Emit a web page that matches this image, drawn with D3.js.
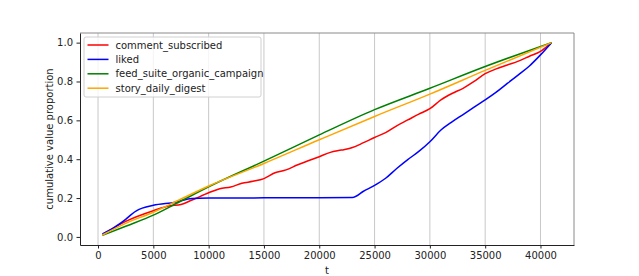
<!DOCTYPE html>
<html>
<head>
<meta charset="utf-8">
<script src="https://cdn.jsdelivr.net/npm/d3@7"></script>
<style>
  body { margin: 0; background: #fff; }
  text { font-family: "DejaVu Sans", sans-serif; }
</style>
</head>
<body>
<svg></svg>
<script>
var margin = {top: 33, left: 80, bottom: 31, right: 65};
var width = 639 - margin.left - margin.right;
var height = 276 - margin.top - margin.bottom;

// dataset

var seriesNames = ["comment_subscribed", "liked", "feed_suite_organic_campaign", "story_daily_digest"];
var colors = ["red", "blue", "green", "orange"];

var commentT = [400, 2500, 5000, 6500, 7500, 8500, 10000, 11000, 12000, 13000, 14000, 15000, 16000, 17000, 18000, 19000, 20000, 21000, 22000, 23000, 24000, 25000, 26000, 27000, 28000, 29000, 30000, 31000, 32000, 33000, 34000, 35000, 36000, 37000, 38000, 39000, 40000, 41000];
var commentV = [0.012, 0.08, 0.135, 0.16, 0.167, 0.19, 0.227, 0.248, 0.257, 0.276, 0.286, 0.300, 0.33, 0.345, 0.37, 0.392, 0.413, 0.435, 0.447, 0.46, 0.485, 0.512, 0.537, 0.572, 0.602, 0.632, 0.66, 0.705, 0.738, 0.765, 0.8, 0.84, 0.865, 0.885, 0.905, 0.93, 0.955, 1.0];

var likedT = [400, 1500, 2500, 3000, 3500, 4000, 5000, 7000, 8500, 10000, 15000, 20000, 23000, 24000, 25000, 26000, 27000, 28000, 29000, 30000, 31000, 32000, 33000, 34000, 35000, 36000, 37000, 38000, 39000, 40000, 41000];
var likedV = [0.015, 0.05, 0.09, 0.115, 0.135, 0.148, 0.163, 0.179, 0.198, 0.2, 0.201, 0.202, 0.203, 0.235, 0.265, 0.302, 0.352, 0.398, 0.44, 0.49, 0.55, 0.592, 0.63, 0.668, 0.705, 0.745, 0.79, 0.834, 0.88, 0.937, 1.0];

var feedT = [400, 2500, 5000, 7500, 10000, 15000, 20000, 25000, 30000, 35000, 41000];
var feedV = [0.008, 0.055, 0.112, 0.185, 0.258, 0.39, 0.525, 0.655, 0.765, 0.877, 1.0];

var storyT = [400, 2500, 5000, 7500, 10000, 15000, 20000, 25000, 30000, 35000, 41000];
var storyV = [0.01, 0.07, 0.127, 0.195, 0.262, 0.378, 0.5, 0.62, 0.735, 0.857, 1.0];

var xTicks = [0, 5000, 10000, 15000, 20000, 25000, 30000, 35000, 40000];
var yTicks = [0.0, 0.2, 0.4, 0.6, 0.8, 1.0];

var series = [
  {name: seriesNames[0], color: colors[0], t: commentT, v: commentV},
  {name: seriesNames[1], color: colors[1], t: likedT, v: likedV},
  {name: seriesNames[2], color: colors[2], t: feedT, v: feedV},
  {name: seriesNames[3], color: colors[3], t: storyT, v: storyV}
];

// SVG setup

var svg = d3.select("svg")
  .attr("width", width + margin.left + margin.right)
  .attr("height", height + margin.top + margin.bottom)
  .append("g")
    .attr("transform", "translate(" + margin.left + "," + margin.top + ")");

// scales (matplotlib style 5% padding)

var x = d3.scaleLinear()
  .domain([400 - 0.05 * 40600, 41000 + 0.05 * 40600])
  .range([0, width]);

var y = d3.scaleLinear()
  .domain([0.008 - 0.05 * 0.992, 1.0 + 0.05 * 0.992])
  .range([height, 0]);

// vertical grid

svg.append("g")
  .selectAll("line")
  .data(xTicks)
  .enter()
  .append("line")
    .attr("x1", d => x(d)).attr("x2", d => x(d))
    .attr("y1", 0).attr("y2", height)
    .attr("stroke", "#c8c8c8")
    .attr("stroke-width", 1);

// lines

var line = d3.line()
  .x(d => x(d[0]))
  .y(d => y(d[1]))
  .curve(d3.curveMonotoneX);

series.forEach(function(s) {
  svg.append("path")
    .datum(s.t.map((t, i) => [t, s.v[i]]))
    .attr("fill", "none")
    .attr("stroke", s.color)
    .attr("stroke-width", 1.5)
    .attr("stroke-linejoin", "round")
    .attr("d", line);
});

// frame

svg.append("line").attr("x1", 0).attr("x2", width).attr("y1", 0).attr("y2", 0)
  .attr("stroke", "#8a8a8a");
svg.append("line").attr("x1", width).attr("x2", width).attr("y1", 0).attr("y2", height)
  .attr("stroke", "#8a8a8a");

// axes

var xAxis = svg.append("g")
  .attr("transform", "translate(0," + height + ")")
  .call(d3.axisBottom(x).tickValues(xTicks).tickFormat(d3.format("d")).tickSize(3.5).tickSizeOuter(0).tickPadding(3.5));

var yAxis = svg.append("g")
  .call(d3.axisLeft(y).tickValues(yTicks).tickFormat(d3.format(".1f")).tickSize(3.5).tickSizeOuter(0).tickPadding(3.5));

[xAxis, yAxis].forEach(function(a) {
  a.select(".domain").attr("stroke", "#222");
  a.selectAll(".tick line").attr("stroke", "#222");
  a.selectAll(".tick text").attr("fill", "#222")
    .style("font-family", "'DejaVu Sans', sans-serif").style("font-size", "10px");
});

// axis labels

svg.append("text")
  .attr("x", width / 2).attr("y", height + 29)
  .attr("text-anchor", "middle")
  .attr("font-size", "10px")
  .attr("fill", "#222")
  .text("t");

svg.append("text")
  .attr("transform", "translate(-27," + (height / 2) + ") rotate(-90)")
  .attr("text-anchor", "middle")
  .attr("font-size", "10px")
  .attr("fill", "#222")
  .text("cumulative value proportion");

// legend

var legend = svg.append("g").attr("transform", "translate(4,4)");

legend.append("rect")
  .attr("width", 177).attr("height", 60)
  .attr("rx", 2)
  .attr("fill", "#fff").attr("fill-opacity", 0.8)
  .attr("stroke", "#d0d0d0");

var items = legend.selectAll("g.item")
  .data(series)
  .enter()
  .append("g")
    .attr("transform", (d, i) => "translate(0," + (8 + i * 14.4) + ")");

items.append("line")
  .attr("x1", 3.5).attr("x2", 24.5)
  .attr("stroke", d => d.color)
  .attr("stroke-width", 1.5);

items.append("text")
  .attr("x", 31.5).attr("y", 3.5)
  .attr("font-size", "10px")
  .attr("fill", "#222")
  .text(d => d.name);
</script>
</body>
</html>
